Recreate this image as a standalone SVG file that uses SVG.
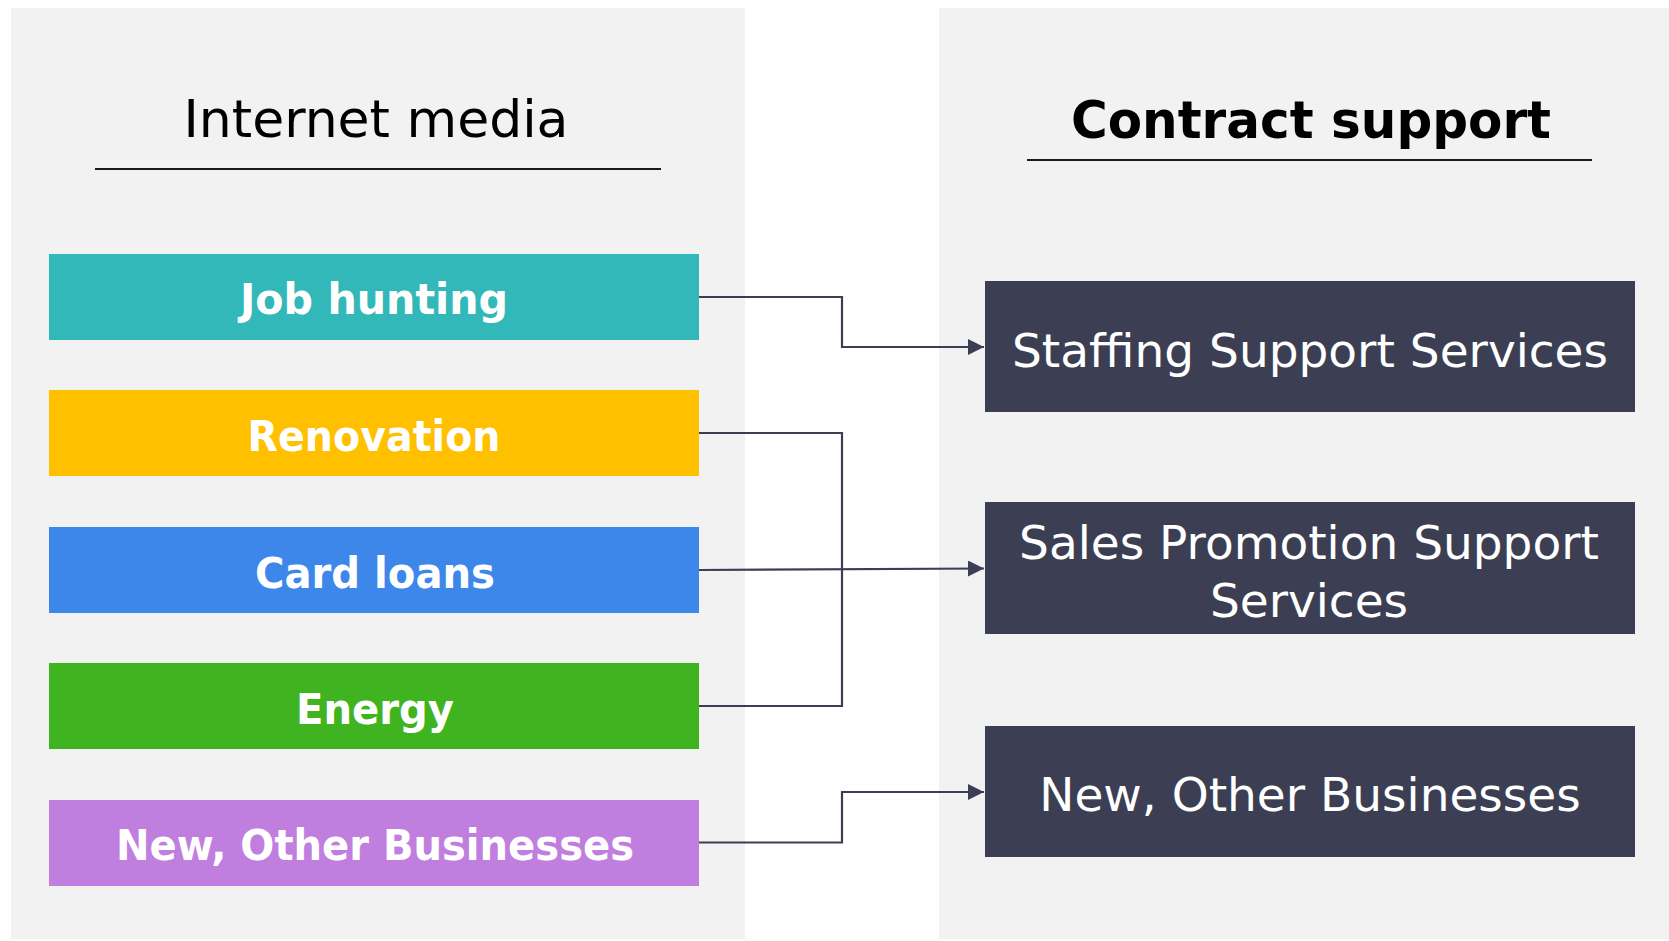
<svg xmlns="http://www.w3.org/2000/svg" width="1669" height="941" viewBox="0 0 1669 941">
  <style>
    .panel { fill: #f2f2f2; }
    .rule { stroke: #1a1a1a; stroke-width: 2; }
    .title { font-family: "DejaVu Sans", Verdana, sans-serif; font-size: 52px; fill: #000; text-anchor: middle; }
    .title-b { font-weight: bold; }
    .src text { font-family: "DejaVu Sans", Verdana, sans-serif; font-weight: bold; font-size: 43px; fill: #fff; text-anchor: middle; }
    .dst rect { fill: #3c3f53; }
    .dst text { font-family: "DejaVu Sans", Verdana, sans-serif; font-size: 47px; fill: #fff; text-anchor: middle; }
    .link { fill: none; stroke: #3c3f53; stroke-width: 2.2; marker-end: url(#arrow); }
    .link-plain { fill: none; stroke: #3c3f53; stroke-width: 2.2; }
  </style>
  <defs>
    <marker id="arrow" markerUnits="userSpaceOnUse" markerWidth="17" markerHeight="17" refX="16" refY="8" orient="auto">
      <path d="M0,0 L16,8 L0,16 Z" fill="#3c3f53"/>
    </marker>
  </defs>

  <rect width="1669" height="941" fill="#ffffff"/>

  <!-- column backgrounds -->
  <rect class="panel" x="11" y="8" width="734" height="931"/>
  <rect class="panel" x="939" y="8" width="730" height="931"/>

  <!-- column headings -->
  <g id="heading-internet-media">
    <text class="title" x="376" y="137">Internet media</text>
    <line class="rule" x1="95" y1="169" x2="661" y2="169"/>
  </g>
  <g id="heading-contract-support">
    <text class="title title-b" x="1311" y="138" font-size="52" textLength="480" lengthAdjust="spacingAndGlyphs">Contract support</text>
    <line class="rule" x1="1027" y1="160" x2="1592" y2="160"/>
  </g>

  <!-- source categories -->
  <g id="job-hunting" class="src">
    <rect x="49" y="254" width="650" height="86" fill="#33b8b9"/>
    <text x="374" y="314" textLength="268" lengthAdjust="spacingAndGlyphs">Job hunting</text>
  </g>
  <g id="renovation" class="src">
    <rect x="49" y="390" width="650" height="86" fill="#ffc000"/>
    <text x="374" y="451" textLength="253" lengthAdjust="spacingAndGlyphs">Renovation</text>
  </g>
  <g id="card-loans" class="src">
    <rect x="49" y="527" width="650" height="86" fill="#3d87eb"/>
    <text x="375" y="588" textLength="240" lengthAdjust="spacingAndGlyphs">Card loans</text>
  </g>
  <g id="energy" class="src">
    <rect x="49" y="663" width="650" height="86" fill="#40b420"/>
    <text x="375" y="724" textLength="158" lengthAdjust="spacingAndGlyphs">Energy</text>
  </g>
  <g id="new-other-src" class="src">
    <rect x="49" y="800" width="650" height="86" fill="#c07ede"/>
    <text x="375" y="860" textLength="518" lengthAdjust="spacingAndGlyphs">New, Other Businesses</text>
  </g>

  <!-- support services -->
  <g id="staffing-support" class="dst">
    <rect x="985" y="281" width="650" height="131"/>
    <text x="1310" y="367">Staffing Support Services</text>
  </g>
  <g id="sales-promotion-support" class="dst">
    <rect x="985" y="502" width="650" height="132"/>
    <text x="1309" y="559">Sales Promotion Support</text>
    <text x="1309" y="617">Services</text>
  </g>
  <g id="new-other-dst" class="dst">
    <rect x="985" y="726" width="650" height="131"/>
    <text x="1310" y="811">New, Other Businesses</text>
  </g>

  <!-- connectors -->
  <g id="connectors">
    <path class="link" d="M699,297 H842 V347 H984"/>
    <path class="link-plain" d="M699,433 H842 V706 H699"/>
    <path class="link" d="M699,570 L984,568.5"/>
    <path class="link" d="M699,842.5 H842 V792 H984"/>
  </g>
</svg>
